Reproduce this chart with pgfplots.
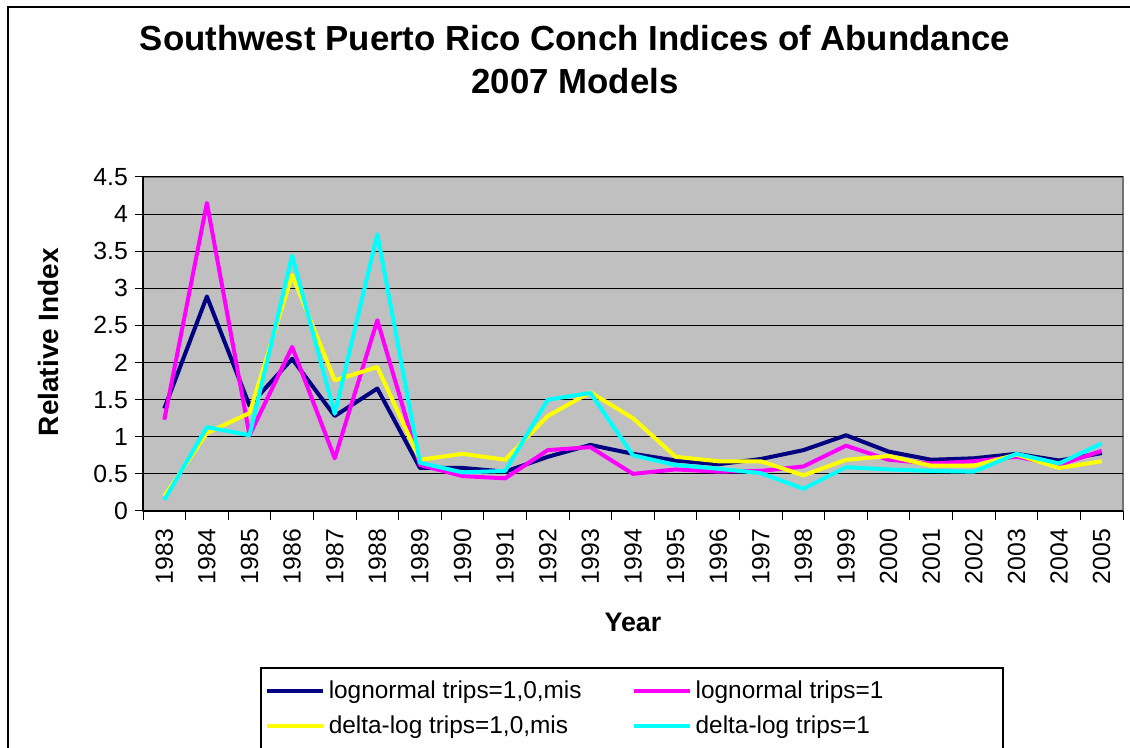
\documentclass[border=0pt]{standalone}
\usepackage{pgfplots}
\pgfplotsset{compat=1.18}
\usepackage{pgfplotstable}
\usepackage{fontspec}
\setmainfont{Liberation Sans}

\definecolor{xlnavy}{HTML}{000080}
\definecolor{xlmag}{HTML}{FF00FF}
\definecolor{xlyel}{HTML}{FFFF00}
\definecolor{xlcyan}{HTML}{00FFFF}
\definecolor{xlgray}{HTML}{C0C0C0}

% year index: 0 = 1983 ... 22 = 2005
\pgfplotstableread{
i  lnmis lnone dlmis dlone
0  1.38  1.23  0.20  0.15
1  2.89  4.15  1.05  1.13
2  1.42  1.02  1.32  1.02
3  2.05  2.21  3.18  3.44
4  1.28  0.71  1.76  1.31
5  1.65  2.57  1.94  3.73
6  0.58  0.62  0.69  0.65
7  0.58  0.47  0.77  0.52
8  0.53  0.44  0.69  0.54
9  0.73  0.82  1.28  1.50
10 0.89  0.86  1.60  1.59
11 0.77  0.50  1.25  0.75
12 0.68  0.56  0.73  0.62
13 0.63  0.53  0.67  0.57
14 0.70  0.54  0.67  0.51
15 0.82  0.60  0.48  0.30
16 1.02  0.88  0.69  0.59
17 0.80  0.69  0.74  0.56
18 0.69  0.64  0.61  0.54
19 0.71  0.67  0.61  0.53
20 0.77  0.73  0.76  0.77
21 0.68  0.62  0.58  0.64
22 0.78  0.81  0.67  0.91
}\conch

\begin{document}
\begin{tikzpicture}
% chart frame (only left and top edges are visible)
\draw[line width=0.8pt] (4pt,0) -- (4pt,370.5pt) -- (565pt,370.5pt);
\begin{axis}[
    at={(71.5pt,118.5pt)}, anchor=south west,
    scale only axis,
    width=490pt, height=167pt,
    xmin=-0.5, xmax=22.5,
    ymin=0, ymax=4.5,
    ytick={0,0.5,...,4.5},
    xtick={0,...,22},
    xticklabels={1983,1984,1985,1986,1987,1988,1989,1990,1991,1992,1993,1994,1995,1996,1997,1998,1999,2000,2001,2002,2003,2004,2005},
    minor xtick={-0.5,0.5,...,22.5},
    major x tick style={draw=none},
    minor tick length=4.5pt,
    major tick length=4pt,
    tick align=outside,
    tick style={black, line width=0.5pt},
    axis x line*=bottom, axis y line*=left,
    axis line style={black, line width=0.6pt, -},
    axis background/.style={fill=xlgray, draw=gray!90!black, line width=0.6pt},
    ymajorgrids,
    grid style={black, line width=0.5pt},
    /pgf/number format/assume math mode=true,
    tick label style={font=\fontsize{12.4}{14}\selectfont},
    xticklabel style={rotate=90, anchor=east, xshift=-1.5pt},
    title={Southwest Puerto Rico Conch Indices of Abundance\\2007 Models},
    title style={at={(axis description cs:0.4408,1.2126)}, anchor=base, align=center,
        font=\fontsize{17.4}{21.5}\selectfont\bfseries},
    xlabel={Year},
    xlabel style={at={(axis description cs:0.5,-0.362)}, anchor=base,
        font=\fontsize{13.4}{16}\selectfont\bfseries},
    ylabel={Relative Index},
    ylabel style={at={(axis description cs:-0.0964,0.506)}, anchor=center,
        font=\fontsize{14}{16}\selectfont\bfseries},
    legend columns=2,
    legend cell align=left,
    legend style={at={(axis description cs:0.1177,-0.483)}, anchor=north west,
        draw=none, fill=none, font=\fontsize{12.2}{14}\selectfont,
        /tikz/every even column/.append style={column sep=23pt},
        row sep=3pt},
    legend image code/.code={\draw[#1] (0pt,0pt) -- (28pt,0pt);},
    every axis plot/.append style={line width=2pt, line join=round},
]
\addplot[xlnavy] table[x=i, y=lnmis] {\conch};
\addlegendentry{lognormal trips=1,0,mis}
\addplot[xlmag] table[x=i, y=lnone] {\conch};
\addlegendentry{lognormal trips=1}
\addplot[xlyel] table[x=i, y=dlmis] {\conch};
\addlegendentry{delta-log trips=1,0,mis}
\addplot[xlcyan] table[x=i, y=dlone] {\conch};
\addlegendentry{delta-log trips=1}
\end{axis}
% legend frame, running past the bottom edge as in the reference
\draw[line width=0.6pt] (130.5pt,-5pt) |- (501.5pt,40pt) -- (501.5pt,-5pt);
\pgfresetboundingbox
\path (0,0) rectangle (565pt,374pt);
\end{tikzpicture}
\end{document}
